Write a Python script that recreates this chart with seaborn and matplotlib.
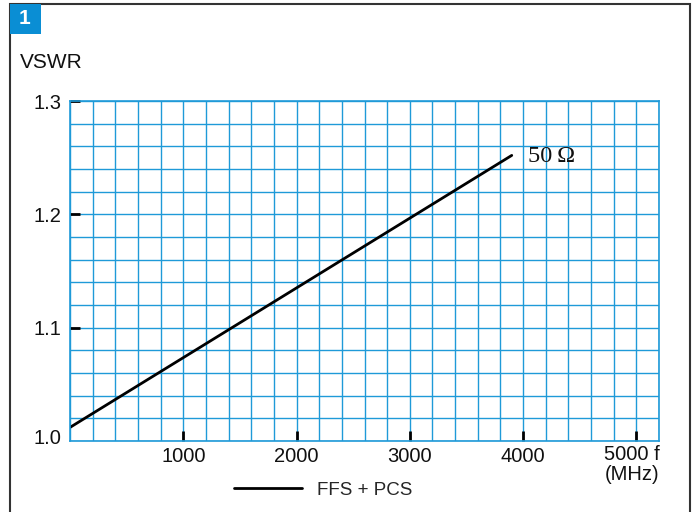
import matplotlib
matplotlib.use("Agg")
import matplotlib.pyplot as plt
import matplotlib.transforms as mtransforms
from matplotlib.patches import Rectangle
import numpy as np
import pandas as pd
import seaborn as sns

# data
freq_mhz = [0, 3900]
vswr = [1.012, 1.252]
series_label = "FFS + PCS"
curve_label = "50\u2009\u03a9"
x_major = [1000, 2000, 3000, 4000, 5000]
x_labels = ["1000", "2000", "3000", "4000", ""]
y_major = [1.0, 1.1, 1.2, 1.3]
y_labels = ["1.0", "1.1", "1.2", "1.3"]

sns.set_theme(style="white")
plt.rcParams["font.family"] = ["Liberation Sans", "DejaVu Sans"]

GRID = "#1f9ad8"
FS = 14.5
fig = plt.figure(figsize=(6.96, 5.12), dpi=100)
ax = fig.add_axes([70/696, 1-441/512, 589/696, 340/512])

df = pd.DataFrame({"f": freq_mhz, "v": vswr})
sns.lineplot(data=df, x="f", y="v", ax=ax, color="black", linewidth=2.0,
             label=series_label, legend=False)

ax.set_xlim(0, 5200)
ax.set_ylim(1.0, 1.3)
ax.set_xticks(x_major)
ax.set_xticklabels(x_labels)
ax.set_yticks(y_major)
ax.set_yticklabels(y_labels)
ax.set_xticks(np.arange(0, 5201, 200), minor=True)
ax.set_yticks(np.arange(1.0, 1.3001, 0.02), minor=True)
ax.grid(True, which="both", color=GRID, linewidth=1.0)
ax.set_axisbelow(True)
for s in ax.spines.values():
    s.set_color(GRID)
    s.set_linewidth(1.2)
ax.tick_params(which="major", bottom=True, left=True, direction="in", length=7,
               width=2.0, color="black", labelsize=FS, labelcolor="#111111")
ax.tick_params(axis="x", which="major", pad=4)
ax.tick_params(axis="y", which="major", pad=6)
ax.tick_params(which="minor", length=0)
ax.yaxis.get_major_ticks()[0].tick1line.set_visible(False)
lab0 = ax.get_yticklabels()[0]
lab0.set_transform(lab0.get_transform() + mtransforms.ScaledTranslation(0, 5/100, fig.dpi_scale_trans))
ax.set_xlabel("")
ax.set_ylabel("")

trans = mtransforms.blended_transform_factory(ax.transData, ax.transAxes)
ax.text(5205, -0.012, "5000 f\n(MHz)", transform=trans, ha="right", va="top",
        multialignment="right", fontsize=FS, color="#111111", linespacing=1.05)

ax.text(4040, 1.251, curve_label, ha="left", va="center", fontsize=17.5,
        family=["Liberation Serif", "DejaVu Serif"], color="#111111")

fig.text(20/696, 1-62/512, "VSWR", ha="left", va="center", fontsize=15, color="#111111")

handles, labels = ax.get_legend_handles_labels()
fig.legend(handles, labels, loc="center", bbox_to_anchor=(323/696, 1-490/512),
           frameon=False, fontsize=13.5, handlelength=3.6, handletextpad=0.8)

# frame and badge
fig.patches.append(Rectangle((10/696, -0.05), 680/696, 1.05-4/512, transform=fig.transFigure,
                             fill=False, edgecolor="#333333", linewidth=1.5))
fig.patches.append(Rectangle((10/696, 1-34/512), 31/696, 30/512, transform=fig.transFigure,
                             facecolor="#0a8ed4", edgecolor="none"))
fig.text(25/696, 1-19/512, "1", ha="center", va="center", fontsize=15,
         fontweight="bold", color="white")

fig.savefig("out.png", dpi=100)
